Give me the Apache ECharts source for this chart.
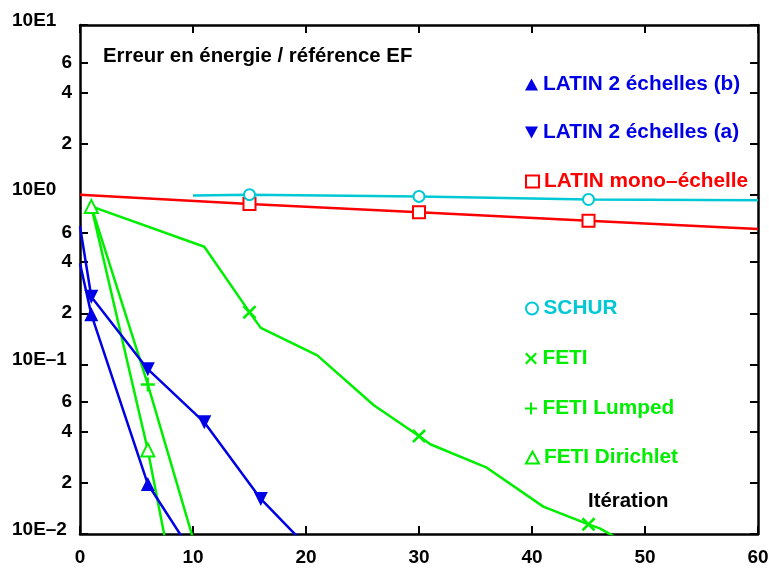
<!DOCTYPE html>
<html><head><meta charset="utf-8">
<script src="https://cdn.jsdelivr.net/npm/echarts@6/dist/echarts.min.js"></script>
<style>html,body{margin:0;padding:0;background:#fff}#c{width:769px;height:574px}</style>
</head><body><div id="c"></div>
<script>
// ---- data ----
const latinB_x = [0, 1, 6, 11];
const latinB_y = [0.393, 0.197, 0.0197, 0.006];
const latinB_marks = [1, 6];

const latinA_x = [0, 1, 6, 11, 16, 21];
const latinA_y = [0.651, 0.25, 0.0936, 0.0455, 0.0161, 0.0073];
const latinA_marks = [1, 6, 11, 16];

const mono_x = [0, 15, 30, 45, 60];
const mono_y = [1.0, 0.881, 0.787, 0.703, 0.627];
const mono_marks = [15, 30, 45];

const schur_x = [10, 15, 30, 45, 60];
const schur_y = [0.99, 1.0, 0.977, 0.937, 0.928];
const schur_marks = [15, 30, 45];

const feti_x = [1, 11, 15, 16, 21, 26, 30, 31, 36, 41, 45, 46, 51];
const feti_y = [0.853, 0.493, 0.203, 0.164, 0.113, 0.0574, 0.0378, 0.0338, 0.0246, 0.0145, 0.0114, 0.0108, 0.0070];
const feti_marks = [15, 30, 45];

const lumped_x = [1, 6, 11];
const lumped_y = [0.853, 0.0761, 0.0056];
const lumped_marks = [6];

const dirichlet_x = [1, 6, 11];
const dirichlet_y = [0.853, 0.0313, 0.0006];
const dirichlet_marks = [1, 6];

const seriesNames = ['LATIN 2 échelles (b)', 'LATIN 2 échelles (a)', 'LATIN mono–échelle', 'SCHUR', 'FETI', 'FETI Lumped', 'FETI Dirichlet'];

const yTickValues = [0.01, 0.02, 0.04, 0.06, 0.1, 0.2, 0.4, 0.6, 1, 2, 4, 6, 10];
const yTickLabels = ['10E–2', '2', '4', '6', '10E–1', '2', '4', '6', '10E0', '2', '4', '6', '10E1'];

const titleText = 'Erreur en énergie / référence EF';
const xNameText = 'Itération';

// ---- styling ----
const FONT = '"Liberation Sans", Arial, Helvetica, sans-serif';
const BLUE = '#0000e6', RED = '#ff0000', CYAN = '#00c8d4', GREEN = '#00ee00';
const SYM_X = 'path://M0,1.6L1.6,0L6,4.4L10.4,0L12,1.6L7.6,6L12,10.4L10.4,12L6,7.6L1.6,12L0,10.4L4.4,6Z';
const SYM_PLUS = 'path://M5,0H7V5H12V7H7V12H5V7H0V5H5Z';
const SYM_DOWN = 'path://M0,0L12,0L6,11Z';

function mk(name, xs, ys, marks, color, symbol, size) {
  return {
    name: name, type: 'line', xAxisIndex: 0, yAxisIndex: 0,
    symbol: symbol, symbolSize: size, showSymbol: true, showAllSymbol: true,
    lineStyle: { color: color, width: 2.5 },
    itemStyle: { color: color, borderWidth: 2 },
    clip: true, silent: true,
    data: xs.map(function (x, i) {
      return marks.indexOf(x) >= 0 ? { value: [x, ys[i]] } : { value: [x, ys[i]], symbol: 'none' };
    })
  };
}

const series = [
  mk(seriesNames[2], mono_x, mono_y, mono_marks, RED, 'emptyRect', 12),
  mk(seriesNames[3], schur_x, schur_y, schur_marks, CYAN, 'emptyCircle', 11),
  mk(seriesNames[4], feti_x, feti_y, feti_marks, GREEN, SYM_X, 14),
  mk(seriesNames[5], lumped_x, lumped_y, lumped_marks, GREEN, SYM_PLUS, 14),
  mk(seriesNames[6], dirichlet_x, dirichlet_y, dirichlet_marks, GREEN, 'emptyTriangle', 13),
  mk(seriesNames[1], latinA_x, latinA_y, latinA_marks, BLUE, SYM_DOWN, 14),
  mk(seriesNames[0], latinB_x, latinB_y, latinB_marks, BLUE, 'triangle', 14)
];

const legendSpec = [
  [seriesNames[0], BLUE, 'triangle', 74],
  [seriesNames[1], BLUE, SYM_DOWN, 122],
  [seriesNames[2], RED, 'emptyRect', 171],
  [seriesNames[3], CYAN, 'emptyCircle', 298],
  [seriesNames[4], GREEN, SYM_X, 348],
  [seriesNames[5], GREEN, SYM_PLUS, 398],
  [seriesNames[6], GREEN, 'emptyTriangle', 447]
];
const legends = legendSpec.map(function (s) {
  return {
    data: [{ name: s[0], icon: s[2] }], left: 525, top: s[3], padding: 0,
    itemWidth: 13, itemHeight: 12, selectedMode: false,
    textStyle: { color: s[1], fontSize: 20.8, fontWeight: 'bold', fontFamily: FONT }
  };
});

function yLabel(v) {
  let best = 0, bd = Infinity;
  for (let i = 0; i < yTickValues.length; i++) {
    const d = Math.abs(Math.log10(v) - Math.log10(yTickValues[i]));
    if (d < bd) { bd = d; best = i; }
  }
  const t = yTickLabels[best];
  return t.indexOf('10E') === 0 ? '{d|' + t + '}' : t;
}

const axisLineStyle = { show: true, onZero: false, lineStyle: { color: '#000', width: 2.5 } };
const tickStyle = { show: true, inside: true, length: 8, lineStyle: { color: '#000', width: 2 } };

const option = {
  animation: false,
  backgroundColor: '#fff',
  grid: { left: 80, right: 11, top: 25, bottom: 40, containLabel: false, outerBoundsMode: 'none' },
  xAxis: [
    { type: 'value', min: 0, max: 60, interval: 10, position: 'bottom',
      axisLine: axisLineStyle, axisTick: tickStyle, splitLine: { show: false },
      axisLabel: { color: '#000', fontSize: 19, fontWeight: 'bold', fontFamily: FONT, margin: 14 } },
    { type: 'value', min: 0, max: 60, interval: 10, position: 'top',
      axisLine: axisLineStyle, axisTick: tickStyle, splitLine: { show: false },
      axisLabel: { show: false } }
  ],
  yAxis: [
    { type: 'log', logBase: 10, min: 0.01, max: 10, position: 'left',
      axisLine: axisLineStyle,
      axisTick: Object.assign({}, tickStyle, { customValues: yTickValues }),
      splitLine: { show: false }, minorTick: { show: false },
      axisLabel: { customValues: yTickValues, formatter: yLabel, color: '#000', fontSize: 19,
        fontWeight: 'bold', fontFamily: FONT, margin: 8,
        rich: { d: { width: 60, align: 'left', padding: [0, 0, 9, 0], color: '#000', fontSize: 19, fontWeight: 'bold', fontFamily: FONT } } } },
    { type: 'log', logBase: 10, min: 0.01, max: 10, position: 'right',
      axisLine: axisLineStyle,
      axisTick: Object.assign({}, tickStyle, { customValues: yTickValues }),
      splitLine: { show: false }, minorTick: { show: false },
      axisLabel: { show: false } }
  ],
  legend: legends,
  graphic: [
    { type: 'text', x: 103, y: 56, silent: true,
      style: { text: titleText, fill: '#000', font: 'bold 20.4px ' + FONT, verticalAlign: 'middle', textVerticalAlign: 'middle' } },
    { type: 'text', x: 588, y: 501, silent: true,
      style: { text: xNameText, fill: '#000', font: 'bold 20.4px ' + FONT, verticalAlign: 'middle', textVerticalAlign: 'middle' } }
  ],
  series: series
};

echarts.init(document.getElementById('c'), null, { renderer: 'canvas' }).setOption(option);
</script></body></html>
